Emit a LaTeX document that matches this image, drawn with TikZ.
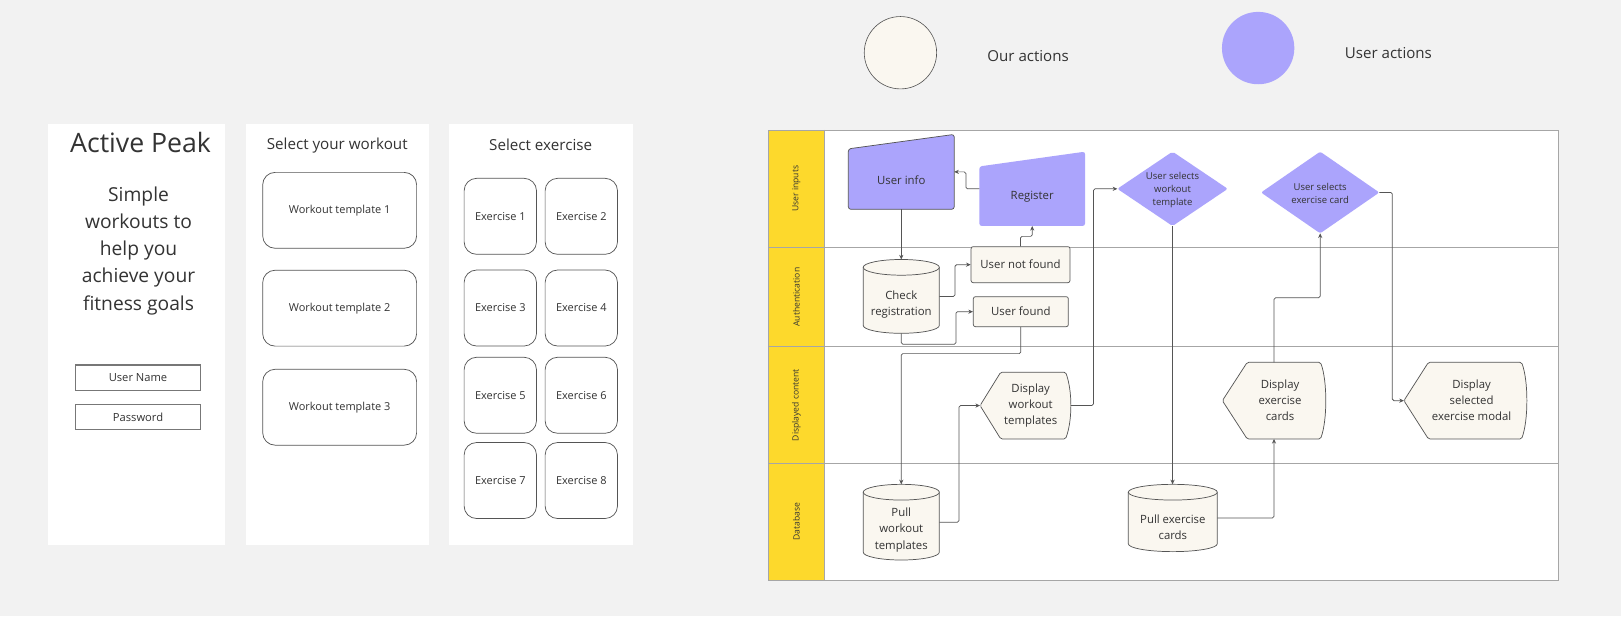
\documentclass[tikz,border=0pt]{standalone}
\usepackage{fontspec}
\setmainfont{Open Sans}
\usetikzlibrary{calc,arrows.meta}
\definecolor{bgc}{HTML}{F2F2F2}
\definecolor{cream}{HTML}{FAF7F0}
\definecolor{purp}{HTML}{ABA4FC}
\definecolor{lanec}{HTML}{FDD92C}
\definecolor{txt}{HTML}{333333}
\definecolor{edge}{HTML}{555555}
\definecolor{inedge}{HTML}{777777}
\definecolor{framec}{HTML}{A6A6A6}
\pgfdeclarelayer{bglayer}\pgfdeclarelayer{shp}\pgfsetlayers{bglayer,shp,main}
\tikzset{
 panel/.style={fill=white},
 mtxt/.style={text=txt, inner sep=0pt, align=center},
 card/.style={draw=edge, line width=0.7pt, fill=white, rounded corners=12pt, inner sep=0pt, text=txt, font=\fontsize{10.6}{13}\selectfont},
 inbox/.style={draw=inedge, line width=1.2pt, fill=white, inner sep=0pt, text=txt, font=\fontsize{10.8}{13}\selectfont},
 bb/.style={rectangle, inner sep=0pt, outer sep=0pt},
 ntxt/.style={text=txt, inner sep=0pt, align=center, font=\fontsize{11}{15.5}\selectfont},
 dtxt/.style={text=txt, inner sep=0pt, align=center, font=\fontsize{9.2}{12.5}\selectfont},
 rbox/.style={draw=edge, line width=0.7pt, fill=cream, rounded corners=2pt, inner sep=0pt, text=txt, font=\fontsize{11}{15.5}\selectfont},
 shapeline/.style={draw=edge, line width=0.7pt},
 conn/.style={draw=edge, line width=0.7pt, rounded corners=1.5pt, -{Stealth[length=4.5pt,width=4pt]}},
 lanetxt/.style={text=txt, inner sep=0pt, font=\fontsize{8.3}{10}\selectfont, rotate=90},
 legtxt/.style={text=txt, inner sep=0pt, font=\fontsize{14.6}{17}\selectfont},
}
\newcommand\bbnode[5]{%
 \pgfmathsetmacro\bbw{#4-#2}\pgfmathsetmacro\bbh{#5-#3}%
 \pgfmathsetmacro\bbx{(#2+#4)/2}\pgfmathsetmacro\bby{(#3+#5)/2}%
 \node[bb, minimum width=\bbw pt, minimum height=\bbh pt] (#1) at (\bbx,\bby) {};}
\newcommand\cylshape[4]{%
 \pgfmathsetmacro\cyX{(#1+#3)/2}\pgfmathsetmacro\cyR{(#3-#1)/2}%
 \pgfmathsetmacro\cyA{#2+7.6}\pgfmathsetmacro\cyB{#4-7.6}%
 \begin{pgfonlayer}{shp}
 \filldraw[shapeline, fill=cream] (#1,\cyA) -- (#1,\cyB) .. controls (#1,\cyB+4.2) and (\cyX-0.552*\cyR,#4) .. (\cyX,#4) .. controls (\cyX+0.552*\cyR,#4) and (#3,\cyB+4.2) .. (#3,\cyB) -- (#3,\cyA) -- cycle;
 \filldraw[shapeline, fill=cream] (\cyX,\cyA) ellipse [x radius=\cyR, y radius=7.6];
 \end{pgfonlayer}}
\newcommand\dispshape[5]{%
 \pgfmathsetmacro\dsM{(#2+#4)/2}%
 \begin{pgfonlayer}{shp}
 \filldraw[shapeline, fill=cream, rounded corners=1.5pt] (#1,\dsM) -- (#1+#5,#2) -- (#3-5,#2) .. controls (#3+1.7,#2+18) and (#3+1.7,#4-18) .. (#3-5,#4) -- (#1+#5,#4) -- cycle;
 \end{pgfonlayer}}
\begin{document}
\begin{tikzpicture}[x=1pt,y=-1pt]
\useasboundingbox (0,0) rectangle (1568,596);
\begin{pgfonlayer}{bglayer}
\fill[bgc] (0,0) rectangle (1568,596);
\fill[panel] (46.4,120) rectangle (218,526.7);
\fill[panel] (238,120) rectangle (415,526.7);
\fill[panel] (434.7,120) rectangle (612,526.7);
% swimlane frame
\filldraw[fill=white, draw=framec, line width=0.8pt] (743.2,125.7) rectangle (1507.4,561);
\fill[lanec] (743.2,125.7) rectangle (797.4,561);
\draw[framec, line width=0.6pt] (797.4,125.7) -- (797.4,561);
\draw[framec, line width=0.7pt] (743.2,239.2) -- (1507.4,239.2);
\draw[framec, line width=0.7pt] (743.2,335.5) -- (1507.4,335.5);
\draw[framec, line width=0.7pt] (743.2,448.2) -- (1507.4,448.2);
\draw[framec, line width=0.8pt] (743.2,125.7) rectangle (1507.4,561);
\end{pgfonlayer}

% ---------- mockup ----------
\node[mtxt, anchor=base, font=\fontsize{25.8}{30}\selectfont] (title) at (136,147.6) {Active Peak};
\node[mtxt, font=\fontsize{18.6}{26.3}\selectfont] (tagline) at (134,242.5) {Simple\\workouts to\\help you\\achieve your\\fitness goals};
\node[inbox, minimum width=121.2pt, minimum height=24.6pt] (uname) at (133.5,365.3) {User Name};
\node[inbox, minimum width=121.2pt, minimum height=24.6pt] (pwd) at (133.5,403.35) {Password};

\node[mtxt, anchor=base, font=\fontsize{14.7}{17}\selectfont] (selw) at (326.2,144.5) {Select your workout};
\node[card, minimum width=148.9pt, minimum height=73.4pt] (wt1) at (328.55,203.45) {Workout template 1};
\node[card, minimum width=148.9pt, minimum height=73.4pt] (wt2) at (328.55,298.1) {Workout template 2};
\node[card, minimum width=148.9pt, minimum height=73.4pt] (wt3) at (328.55,393.9) {Workout template 3};

\node[mtxt, anchor=base, font=\fontsize{14.7}{17}\selectfont] (sele) at (523,146) {Select exercise};
\foreach \n/\x/\y in {1/483.95/209.25, 2/562.3/209.25, 3/483.95/297.95, 4/562.3/297.95, 5/483.95/382.35, 6/562.3/382.35, 7/483.95/464.8, 8/562.3/464.8}
  \node[card, minimum width=70pt, minimum height=73.5pt] (ex\n) at (\x,\y) {Exercise \n};

% ---------- legend ----------
\node[circle, minimum size=70pt, inner sep=0pt, fill=cream, draw=edge, line width=0.6pt] (ourc) at (871,51) {};
\node[legtxt] (ourt) at (994.5,54) {Our actions};
\node[circle, minimum size=70pt, inner sep=0pt, fill=purp] (userc) at (1217,46.5) {};
\node[legtxt] (usert) at (1343,51.4) {User actions};

% ---------- lane labels ----------
\node[lanetxt] (lane1) at (770.3,182.5) {User inputs};
\node[lanetxt] (lane2) at (770.3,287.4) {Authentication};
\node[lanetxt] (lane3) at (770.3,391.8) {Displayed content};
\node[lanetxt] (lane4) at (770.3,504.6) {Database};

% ---------- flow nodes ----------
\bbnode{uinfo}{820.6}{130}{923}{202.5}
\begin{pgfonlayer}{shp}
\filldraw[fill=purp, draw=edge, line width=0.7pt, rounded corners=2.5pt] (820.6,144) -- (923,130) -- (923,202.5) -- (820.6,202.5) -- cycle;
\end{pgfonlayer}
\node[ntxt] (uinfo-t) at (871.8,174) {User info};

\bbnode{reg}{947.3}{146.7}{1049.6}{218.6}
\begin{pgfonlayer}{shp}
\fill[purp, rounded corners=2.5pt] (947.3,161) -- (1049.6,146.7) -- (1049.6,218.6) -- (947.3,218.6) -- cycle;
\end{pgfonlayer}
\node[ntxt] (reg-t) at (998.45,190.5) {Register};

\bbnode{chk}{835}{251}{908.6}{322.4}
\cylshape{835}{251}{908.6}{322.4}
\node[ntxt] (chk-t) at (871.8,294.8) {Check\\registration};

\node[rbox, minimum width=95.7pt, minimum height=34.8pt] (unf) at (987.15,256) {User not found};
\node[rbox, minimum width=91.9pt, minimum height=29pt] (uf) at (987.45,301.5) {User found};

\bbnode{pwt}{835}{468.5}{908.6}{541.7}
\cylshape{835}{468.5}{908.6}{541.7}
\node[ntxt] (pwt-t) at (871.8,512.7) {Pull\\workout\\templates};

\bbnode{dwt}{948}{360}{1035.7}{424.6}
\dispshape{948}{360}{1035.7}{424.6}{20}
\node[ntxt] (dwt-t) at (997,392.3) {Display\\workout\\templates};

\bbnode{d1}{1080.8}{146.7}{1187.6}{218.6}
\begin{pgfonlayer}{shp}
\fill[purp, rounded corners=2pt] (d1.west) -- (d1.north) -- (d1.east) -- (d1.south) -- cycle;
\end{pgfonlayer}
\node[dtxt] (d1-t) at (1134.2,183.6) {User selects\\workout\\template};

\bbnode{pec}{1091.4}{468.5}{1177.5}{533.6}
\cylshape{1091.4}{468.5}{1177.5}{533.6}
\node[ntxt] (pec-t) at (1134.5,510) {Pull exercise\\cards};

\bbnode{dec}{1182.4}{350.5}{1282.3}{424.6}
\dispshape{1182.4}{350.5}{1282.3}{424.6}{24}
\node[ntxt] (dec-t) at (1238.2,387.6) {Display\\exercise\\cards};

\bbnode{d2}{1219.8}{146.7}{1334.2}{225.7}
\begin{pgfonlayer}{shp}
\fill[purp, rounded corners=2pt] (d2.west) -- (d2.north) -- (d2.east) -- (d2.south) -- cycle;
\end{pgfonlayer}
\node[dtxt] (d2-t) at (1277,186.7) {User selects\\exercise card};

\bbnode{dsm}{1358}{350.5}{1476.8}{424.6}
\dispshape{1358}{350.5}{1476.8}{424.6}{23.7}
\node[ntxt] (dsm-t) at (1423.5,387.6) {Display\\selected\\exercise modal};

% ---------- connectors ----------
\draw[conn] (reg.west) -- ++(-13,0) |- (uinfo.east);
\draw[conn] (uinfo.south) -- (chk.north);
\draw[conn] (chk.east) -- ++(15.2,0) |- (unf.west);
\draw[conn] (unf.north) -- ++(0,-9.6) -| (reg.south);
\draw[conn] (chk.south) -- ++(0,10.6) -| ([xshift=-16.5pt]uf.west) -- (uf.west);
\draw[conn] (uf.south) -- ++(0,25.7) -| (pwt.north);
\draw[conn] (pwt.east) -- ++(19,0) |- (dwt.west);
\draw[conn] (dwt.east) -- ++(22,0) |- (d1.west);
\draw[conn] (d1.south) -- (d1.south |- pec.north);
\draw[conn] (pec.east) -| (dec.south);
\draw[conn] (dec.north) -- ++(0,-62.5) -| (d2.south);
\draw[conn] (d2.east) -- ++(12.6,0) |- (dsm.west);
\end{tikzpicture}
\end{document}
